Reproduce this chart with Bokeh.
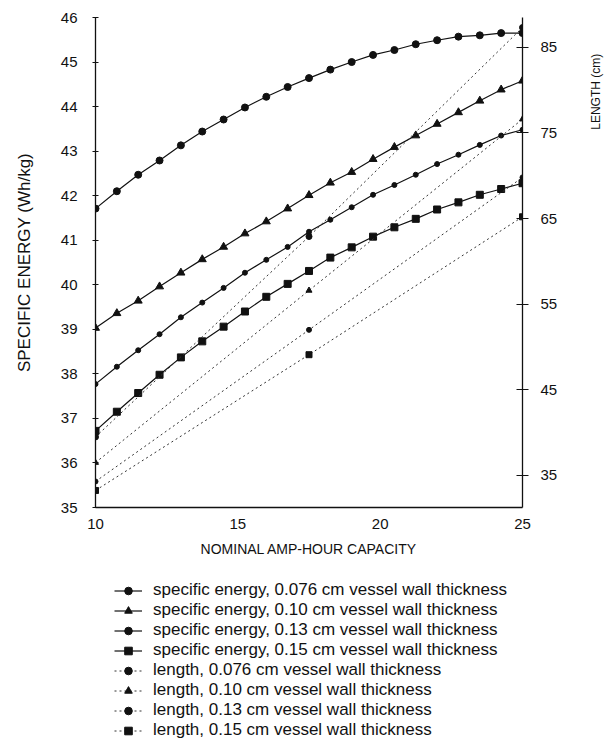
import math
from bokeh.plotting import figure
from bokeh.layouts import column, row
from bokeh.models import Range1d, LinearAxis, Legend, LegendItem, FixedTicker
from bokeh.core.properties import value
from bokeh.embed import file_html
from bokeh.resources import INLINE

# ---- data ----
capacity = [10.0, 10.75, 11.5, 12.25, 13.0, 13.75, 14.5, 15.25, 16.0, 16.75, 17.5,
            18.25, 19.0, 19.75, 20.5, 21.25, 22.0, 22.75, 23.5, 24.25, 25.0]
se_076 = [41.71, 42.10, 42.47, 42.79, 43.13, 43.44, 43.71, 43.98, 44.22, 44.44, 44.64,
          44.83, 45.00, 45.16, 45.27, 45.40, 45.49, 45.57, 45.60, 45.65, 45.65]
se_010 = [39.03, 39.36, 39.64, 39.96, 40.27, 40.57, 40.85, 41.15, 41.42, 41.71, 42.01,
          42.29, 42.53, 42.82, 43.09, 43.35, 43.61, 43.87, 44.13, 44.38, 44.58]
se_013 = [37.77, 38.16, 38.53, 38.89, 39.27, 39.60, 39.93, 40.27, 40.56, 40.85, 41.19,
          41.46, 41.74, 42.02, 42.24, 42.47, 42.71, 42.92, 43.14, 43.35, 43.48]
se_015 = [36.72, 37.15, 37.57, 37.98, 38.37, 38.73, 39.06, 39.40, 39.73, 40.02, 40.31,
          40.61, 40.84, 41.08, 41.29, 41.48, 41.69, 41.85, 42.02, 42.15, 42.28]

len_capacity = [10.0, 17.5, 25.0]
len_076 = [39.5, 62.9, 87.3]
len_010 = [36.5, 56.6, 76.6]
len_013 = [34.3, 52.0, 69.8]
len_015 = [33.25, 49.1, 65.2]

x_ticks = [10, 15, 20, 25]
left_ticks = [35, 36, 37, 38, 39, 40, 41, 42, 43, 44, 45, 46]
right_ticks = [35, 45, 55, 65, 75, 85]

labels = [
    "specific energy, 0.076 cm vessel wall thickness",
    "specific energy, 0.10 cm vessel wall thickness",
    "specific energy, 0.13 cm vessel wall thickness",
    "specific energy, 0.15 cm vessel wall thickness",
    "length, 0.076 cm vessel wall thickness",
    "length, 0.10 cm vessel wall thickness",
    "length, 0.13 cm vessel wall thickness",
    "length, 0.15 cm vessel wall thickness",
]
right_title = "LENGTH (cm)"

FONT = "Liberation Sans"
INK = "#111111"
DOT = "#333333"

MAIN_W, MAIN_H = 580, 561
SIDE_W = 32
LEG_H = 179
FRAME_L, FRAME_R, FRAME_T, FRAME_B = 95, 522, 17, 507

p = figure(width=MAIN_W, height=MAIN_H, x_range=Range1d(10, 25), y_range=Range1d(35, 46),
           output_backend="svg", toolbar_location=None,
           min_border_left=FRAME_L, min_border_right=MAIN_W - FRAME_R, min_border_top=FRAME_T,
           min_border_bottom=MAIN_H - FRAME_B)
p.outline_line_color = None
p.xgrid.grid_line_color = None
p.ygrid.grid_line_color = None

p.extra_y_ranges = {"length": Range1d(31.26, 88.47)}

# bottom axis
xa = p.xaxis[0]
xa.ticker = FixedTicker(ticks=x_ticks)
xa.major_tick_out = 0
xa.major_tick_in = 0
xa.minor_tick_out = 0
xa.minor_tick_in = 0
xa.major_label_standoff = 11
xa.axis_label = "NOMINAL AMP-HOUR CAPACITY"
xa.axis_label_standoff = 9

# left axis
ya = p.yaxis[0]
ya.ticker = FixedTicker(ticks=left_ticks)
ya.major_tick_out = 3
ya.major_tick_in = 3
ya.minor_tick_out = 0
ya.minor_tick_in = 0
ya.major_label_standoff = 15
ya.axis_label = "SPECIFIC ENERGY (Wh/kg)"
ya.axis_label_standoff = 24

# right axis
ra = LinearAxis(y_range_name="length", ticker=FixedTicker(ticks=right_ticks))
ra.major_tick_out = 6
ra.major_tick_in = 6
ra.minor_tick_out = 0
ra.minor_tick_in = 0
ra.major_label_standoff = 12
p.add_layout(ra, "right")

for ax in (xa, ya, ra):
    ax.axis_line_color = INK
    ax.axis_line_width = 1.3
    ax.major_tick_line_color = INK
    ax.major_label_text_font = FONT
    ax.major_label_text_font_size = "15px"
    ax.major_label_text_color = INK
    ax.axis_label_text_font = FONT
    ax.axis_label_text_font_size = "14px"
    ax.axis_label_text_font_style = "normal"
    ax.axis_label_text_color = INK
ya.axis_label_text_font_size = "17px"

se_series = [se_076, se_010, se_013, se_015]
len_series = [len_076, len_010, len_013, len_015]
se_style = [("circle", 7), ("triangle", 8), ("circle", 5), ("square", 7)]
len_style = [("circle", 6), ("triangle", 6), ("circle", 5), ("square", 6)]

for vals, (marker, size) in zip(se_series, se_style):
    p.line(capacity, vals, line_color=INK, line_width=1.2)
    p.scatter(capacity, vals, marker=marker, size=size, fill_color=INK, line_color=INK)

for vals, (marker, size) in zip(len_series, len_style):
    p.line(len_capacity, vals, y_range_name="length", line_color=DOT,
           line_width=1.0, line_dash="2 3")
    p.scatter(len_capacity, vals, y_range_name="length", marker=marker, size=size,
              fill_color=INK, line_color=INK)

# side strip holding the right-hand axis title (screen-like coordinates)
side = figure(width=SIDE_W, height=MAIN_H, x_range=Range1d(0, SIDE_W), y_range=Range1d(0, MAIN_H),
              output_backend="svg", toolbar_location=None, x_axis_type=None, y_axis_type=None,
              min_border=0)
side.outline_line_color = None
side.grid.visible = False
side.text(x=[15], y=[MAIN_H - 85], text=[right_title], angle=math.pi / 2,
          text_align="center", text_baseline="middle", text_font=value(FONT),
          text_font_size="12px", text_color=INK)

# legend strip below the chart (legend proxies use the same data, kept out of view)
leg = figure(width=MAIN_W + SIDE_W, height=LEG_H, x_range=Range1d(0, 1), y_range=Range1d(0, 1),
             output_backend="svg", toolbar_location=None, x_axis_type=None, y_axis_type=None,
             min_border=0)
leg.outline_line_color = None
leg.grid.visible = False

items = []
for vals, (marker, size), lab in zip(se_series, se_style, labels[:4]):
    r1 = leg.line(capacity, vals, line_color=INK, line_width=1.2)
    r2 = leg.scatter(capacity, vals, marker=marker, size=5, fill_color=INK, line_color=INK)
    items.append(LegendItem(label=lab, renderers=[r1, r2]))
for vals, (marker, size), lab in zip(len_series, len_style, labels[4:]):
    r1 = leg.line(len_capacity, vals, line_color=DOT, line_width=1.0, line_dash="2 3")
    r2 = leg.scatter(len_capacity, vals, marker=marker, size=5, fill_color=INK, line_color=INK)
    items.append(LegendItem(label=lab, renderers=[r1, r2]))

legend = Legend(items=items, location=(114, 0), orientation="vertical",
                padding=0, margin=0, spacing=0, border_line_color=None,
                background_fill_alpha=0, glyph_width=28, glyph_height=19,
                label_height=19, label_standoff=11,
                label_text_font=FONT, label_text_font_size="17px", label_text_color=INK)
leg.add_layout(legend, "center")

layout = column(row(p, side), leg)

open("out.html", "w").write(file_html(layout, INLINE))
